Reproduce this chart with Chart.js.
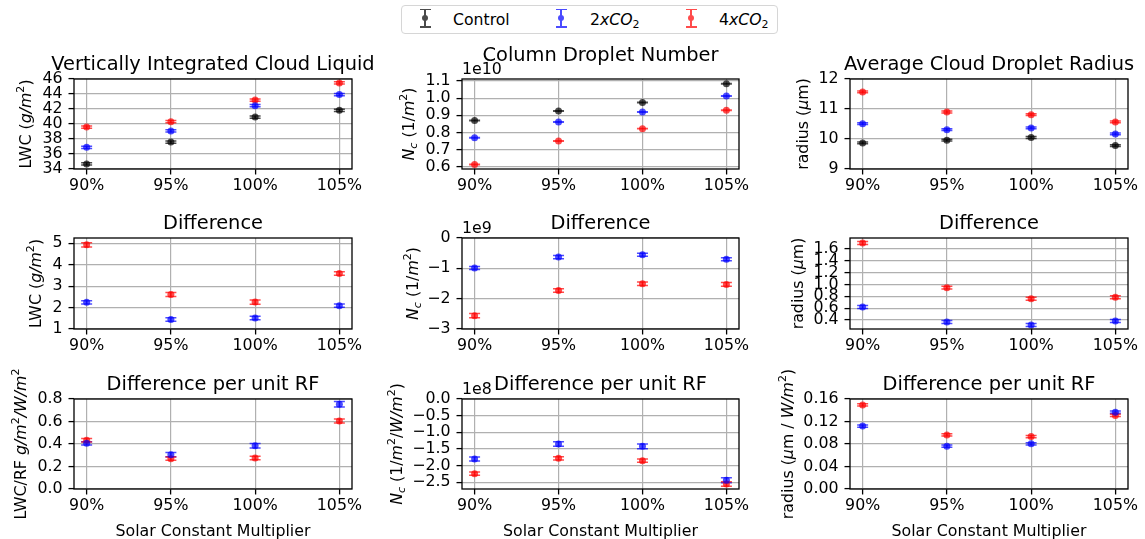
<!DOCTYPE html>
<html>
<head>
<meta charset="utf-8">
<script src="https://cdn.jsdelivr.net/npm/chart.js@4.4.1/dist/chart.umd.min.js"></script>
<style>
  html, body { margin: 0; padding: 0; background: #fff; }
  body { width: 1145px; height: 539px; position: relative; overflow: hidden; font-family: "DejaVu Sans", sans-serif; }
  canvas { position: absolute; }
  #legend { position: absolute; left: 401px; top: 5px; width: 375px; height: 27px;
            border: 1px solid #d6d6d6; border-radius: 4px; font-size: 15.7px; }
  #legend .txt { position: absolute; top: 4.6px; line-height: 18px; white-space: nowrap; }
  #legend sub { font-size: 70%; vertical-align: -3px; line-height: 0; }
  #legend .icon { position: absolute; top: 2.5px; width: 11px; height: 19px; opacity: 0.7; }
  #legend .icon div { position: absolute; }
</style>
</head>
<body>
<div id="legend"></div>
<script>
// ---- data ----
const categories = ["90%", "95%", "100%", "105%"];
const seriesNames = ["Control", "2xCO2", "4xCO2"];
const seriesColors = ["rgba(0,0,0,0.7)", "rgba(0,0,255,0.7)", "rgba(255,0,0,0.7)"];

// vertically integrated cloud liquid (g/m2)
const lwcControl = [34.67, 37.60, 40.93, 41.82];
const lwc2x = [36.89, 39.07, 42.44, 43.93];
const lwc4x = [39.60, 40.31, 43.20, 45.47];
const lwcErr = [0.15, 0.15, 0.15, 0.15];
const lwcTicks = [34, 36, 38, 40, 42, 44, 46];

// column droplet number (1e10 / m2)
const ncControl = [0.870, 0.925, 0.975, 1.084];
const nc2x = [0.769, 0.861, 0.919, 1.012];
const nc4x = [0.612, 0.750, 0.822, 0.929];
const ncErr = [0.0014, 0.0014, 0.0014, 0.0014];
const ncTicks = [0.6, 0.7, 0.8, 0.9, 1.0, 1.1];

// average cloud droplet radius (um)
const radControl = [9.87, 9.96, 10.05, 9.78];
const rad2x = [10.51, 10.31, 10.37, 10.17];
const rad4x = [11.57, 10.90, 10.81, 10.57];
const radErr = [0.03, 0.03, 0.03, 0.03];
const radTicks = [9, 10, 11, 12];

// differences
const lwcDiff2x = [2.245, 1.44, 1.51, 2.09];
const lwcDiff4x = [4.93, 2.61, 2.26, 3.59];
const lwcDiffErr2x = [0.08, 0.08, 0.08, 0.08];
const lwcDiffErr4x = [0.1, 0.09, 0.1, 0.08];
const lwcDiffTicks = [1, 2, 3, 4, 5];

const ncDiff2x = [-0.99, -0.63, -0.55, -0.70];
const ncDiff4x = [-2.56, -1.73, -1.51, -1.53];
const ncDiffErr2x = [0.05, 0.05, 0.05, 0.05];
const ncDiffErr4x = [0.07, 0.06, 0.06, 0.06];
const ncDiffTicks = [-3, -2, -1, 0];

const radDiff2x = [0.62, 0.366, 0.315, 0.383];
const radDiff4x = [1.70, 0.947, 0.76, 0.783];
const radDiffErr = [0.025, 0.025, 0.025, 0.025];
const radDiffTicks = [0.4, 0.6, 0.8, 1.0, 1.2, 1.4, 1.6];

// difference per unit RF
const lwcRf2x = [0.406, 0.305, 0.385, 0.753];
const lwcRf4x = [0.433, 0.270, 0.276, 0.604];
const lwcRfErr2x = [0.015, 0.019, 0.02, 0.024];
const lwcRfErr4x = [0.015, 0.015, 0.015, 0.018];
const lwcRfTicks = [0, 0.2, 0.4, 0.6, 0.8];

const ncRf2x = [-1.80, -1.35, -1.42, -2.44];
const ncRf4x = [-2.24, -1.78, -1.85, -2.55];
const ncRfErr2x = [0.06, 0.07, 0.07, 0.075];
const ncRfErr4x = [0.05, 0.05, 0.05, 0.065];
const ncRfTicks = [-2.5, -2, -1.5, -1, -0.5, 0];

const radRf2x = [0.112, 0.0762, 0.0803, 0.1366];
const radRf4x = [0.1495, 0.0961, 0.0932, 0.1307];
const radRfErr = [0.002, 0.002, 0.002, 0.002];
const radRfTicks = [0, 0.04, 0.08, 0.12, 0.16];

// ---- layout ----
const FONT = '"DejaVu Sans", sans-serif';
const TICK_SIZE = 15.8, TITLE_SIZE = 19.4;
const COLS = [{ l: 74, r: 352 }, { l: 462, r: 739 }, { l: 850, r: 1128 }];
const ROWS = [{ t: 79, b: 169 }, { t: 238, b: 329 }, { t: 399, b: 489 }];
const PAD = { l: 80, t: 40, r: 25, b: 52 };

const LWC_LABEL = [{ t: "LWC (" }, { t: "g/m", i: 1 }, { t: "2", s: "sup" }, { t: ")" }];
const NC_LABEL = [{ t: "N", i: 1 }, { t: "c", i: 1, s: "sub" }, { t: " (1/" }, { t: "m", i: 1 }, { t: "2", s: "sup" }, { t: ")" }];
const RAD_LABEL = [{ t: "radius (" }, { t: "\u03bc", i: 1 }, { t: "m)" }];

const panels = [
  { row: 0, col: 0, title: "Vertically Integrated Cloud Liquid", ylabel: LWC_LABEL, ylabelX: 25,
    yMin: 34, yMax: 46, ticks: lwcTicks, dec: 0,
    series: [[0, lwcControl, lwcErr], [1, lwc2x, lwcErr], [2, lwc4x, lwcErr]] },
  { row: 0, col: 1, title: "Column Droplet Number", titleGap: 18.5, offset: "1e10", ylabel: NC_LABEL, ylabelX: 408,
    yMin: 0.5864, yMax: 1.1117, ticks: ncTicks, dec: 1,
    series: [[0, ncControl, ncErr], [1, nc2x, ncErr], [2, nc4x, ncErr]] },
  { row: 0, col: 2, title: "Average Cloud Droplet Radius", ylabel: RAD_LABEL, ylabelX: 802,
    yMin: 9, yMax: 12, ticks: radTicks, dec: 0,
    series: [[0, radControl, radErr], [1, rad2x, radErr], [2, rad4x, radErr]] },
  { row: 1, col: 0, title: "Difference", ylabel: LWC_LABEL, ylabelX: 35,
    yMin: 1, yMax: 5.25, ticks: lwcDiffTicks, dec: 0,
    series: [[1, lwcDiff2x, lwcDiffErr2x], [2, lwcDiff4x, lwcDiffErr4x]] },
  { row: 1, col: 1, title: "Difference", offset: "1e9", ylabel: NC_LABEL, ylabelX: 412,
    yMin: -3, yMax: 0, ticks: ncDiffTicks, dec: 0,
    series: [[1, ncDiff2x, ncDiffErr2x], [2, ncDiff4x, ncDiffErr4x]] },
  { row: 1, col: 2, title: "Difference", ylabel: RAD_LABEL, ylabelX: 797,
    yMin: 0.248, yMax: 1.786, ticks: radDiffTicks, dec: 1,
    series: [[1, radDiff2x, radDiffErr], [2, radDiff4x, radDiffErr]] },
  { row: 2, col: 0, title: "Difference per unit RF", xlabel: "Solar Constant Multiplier", ylabelX: 20,
    ylabel: [{ t: "LWC/RF " }, { t: "g/m", i: 1 }, { t: "2", s: "sup" }, { t: "/W/m", i: 1 }, { t: "2", s: "sup" }],
    yMin: 0, yMax: 0.8, ticks: lwcRfTicks, dec: 1,
    series: [[1, lwcRf2x, lwcRfErr2x], [2, lwcRf4x, lwcRfErr4x]] },
  { row: 2, col: 1, title: "Difference per unit RF", xlabel: "Solar Constant Multiplier", offset: "1e8", ylabelX: 396,
    ylabel: [{ t: "N", i: 1 }, { t: "c", i: 1, s: "sub" }, { t: " (1/" }, { t: "m", i: 1 }, { t: "2", s: "sup" },
             { t: "/" }, { t: "W/m", i: 1 }, { t: "2", s: "sup" }, { t: ")" }],
    yMin: -2.70, yMax: 0, ticks: ncRfTicks, dec: 1,
    series: [[1, ncRf2x, ncRfErr2x], [2, ncRf4x, ncRfErr4x]] },
  { row: 2, col: 2, title: "Difference per unit RF", xlabel: "Solar Constant Multiplier", ylabelX: 787,
    ylabel: [{ t: "radius (" }, { t: "\u03bc", i: 1 }, { t: "m / " }, { t: "W/m", i: 1 }, { t: "2", s: "sup" }, { t: ")" }],
    yMin: 0, yMax: 0.16, ticks: radRfTicks, dec: 2,
    series: [[1, radRf2x, radRfErr], [2, radRf4x, radRfErr]] },
];

function fmtTick(v, dec) {
  return (v < -1e-9 ? "\u2212" : "") + Math.abs(v).toFixed(dec);
}

// mixed upright / italic / super- and subscript text, like matplotlib mathtext
function drawRich(ctx, segs, cx, cy, size, vertical) {
  const f = (s) => (s.i ? "italic " : "") + (s.s ? size * 0.7 : size) + "px " + FONT;
  let w = 0;
  segs.forEach((s) => { ctx.font = f(s); w += ctx.measureText(s.t).width; });
  ctx.save();
  ctx.translate(cx, cy);
  if (vertical) ctx.rotate(-Math.PI / 2);
  ctx.fillStyle = "#000";
  ctx.textAlign = "left";
  ctx.textBaseline = "alphabetic";
  let x = -w / 2;
  segs.forEach((s) => {
    ctx.font = f(s);
    const dy = s.s === "sup" ? -size * 0.42 : s.s === "sub" ? size * 0.2 : 0;
    ctx.fillText(s.t, x, size * 0.36 + dy);
    x += ctx.measureText(s.t).width;
  });
  ctx.restore();
}

function decorPlugin(p, canvasLeft) {
  return {
    id: "decor",
    beforeDatasetsDraw(chart) {
      // error bars with caps
      const { ctx, scales: { x, y } } = chart;
      chart.data.datasets.forEach((ds) => {
        ctx.save();
        ctx.strokeStyle = ds.backgroundColor;
        ctx.lineWidth = 1.5;
        ds.data.forEach((pt, i) => {
          const px = x.getPixelForValue(pt.x);
          const lo = y.getPixelForValue(pt.y - ds.errors[i]);
          const hi = y.getPixelForValue(pt.y + ds.errors[i]);
          ctx.beginPath();
          ctx.moveTo(px, lo); ctx.lineTo(px, hi);
          ctx.stroke();
          ctx.beginPath();
          ctx.moveTo(px - 5.5, lo); ctx.lineTo(px + 5.5, lo);
          ctx.moveTo(px - 5.5, hi); ctx.lineTo(px + 5.5, hi);
          ctx.stroke();
        });
        ctx.restore();
      });
    },
    afterDatasetsDraw(chart) {
      const { ctx, chartArea: a } = chart;
      ctx.save();
      ctx.strokeStyle = "#000";
      ctx.lineWidth = 1.3;
      ctx.strokeRect(a.left, a.top, a.right - a.left, a.bottom - a.top);
      ctx.restore();
    },
    afterDraw(chart) {
      const { ctx, chartArea: a } = chart;
      ctx.save();
      ctx.fillStyle = "#000";
      ctx.textBaseline = "alphabetic";
      ctx.textAlign = "center";
      ctx.font = TITLE_SIZE + "px " + FONT;
      ctx.fillText(p.title, (a.left + a.right) / 2, a.top - (p.titleGap || 9.5));
      if (p.offset) {
        ctx.textAlign = "left";
        ctx.font = TICK_SIZE + "px " + FONT;
        ctx.fillText(p.offset, a.left, a.top - 5.5);
      }
      if (p.xlabel) {
        ctx.textAlign = "center";
        ctx.font = TICK_SIZE + "px " + FONT;
        ctx.fillText(p.xlabel, (a.left + a.right) / 2, a.bottom + 47);
      }
      ctx.restore();
      drawRich(ctx, p.ylabel, p.ylabelX - canvasLeft, (a.top + a.bottom) / 2, TICK_SIZE, true);
    },
  };
}

Chart.defaults.font.family = FONT;
Chart.defaults.font.size = TICK_SIZE;
Chart.defaults.color = "#000";

const gridOpts = { color: "#b0b0b0", lineWidth: 1.2, tickColor: "#000", tickLength: 5.5, tickWidth: 1.3 };

panels.forEach((p) => {
  const box = { l: COLS[p.col].l, r: COLS[p.col].r, t: ROWS[p.row].t, b: ROWS[p.row].b };
  const w = box.r - box.l + PAD.l + PAD.r;
  const h = box.b - box.t + PAD.t + PAD.b;
  const cv = document.createElement("canvas");
  cv.width = w; cv.height = h;
  cv.style.left = box.l - PAD.l + "px";
  cv.style.top = box.t - PAD.t + "px";
  cv.style.width = w + "px";
  cv.style.height = h + "px";
  document.body.appendChild(cv);

  new Chart(cv, {
    type: "scatter",
    data: {
      datasets: p.series.map(([s, vals, errs]) => ({
        label: seriesNames[s],
        data: vals.map((v, i) => ({ x: i, y: v })),
        errors: errs,
        backgroundColor: seriesColors[s],
        borderWidth: 0,
        pointRadius: 3.5,
        pointHoverRadius: 3.5,
      })),
    },
    options: {
      responsive: false,
      animation: false,
      devicePixelRatio: 1,
      events: [],
      layout: { padding: { left: 0, top: PAD.t, right: PAD.r, bottom: 0 } },
      plugins: { legend: { display: false }, tooltip: { enabled: false } },
      scales: {
        x: {
          type: "linear",
          min: -0.15,
          max: 3.15,
          afterBuildTicks: (s) => { s.ticks = categories.map((c, i) => ({ value: i })); },
          afterFit: (s) => { s.height = PAD.b; },
          ticks: { autoSkip: false, maxRotation: 0, padding: 2, callback: (v) => categories[v] },
          grid: gridOpts,
          border: { display: false },
        },
        y: {
          min: p.yMin,
          max: p.yMax,
          afterBuildTicks: (s) => { s.ticks = p.ticks.map((v) => ({ value: v })); },
          afterFit: (s) => { s.width = PAD.l; },
          ticks: { autoSkip: false, padding: 6, callback: (v) => fmtTick(v, p.dec) },
          grid: gridOpts,
          border: { display: false },
        },
      },
    },
    plugins: [decorPlugin(p, box.l - PAD.l)],
  });
});

// legend (errorbar glyphs)
const legendX = [{ icon: 23, text: 51 }, { icon: 159, text: 188 }, { icon: 289, text: 317 }];
const legend = document.getElementById("legend");
seriesNames.forEach((name, k) => {
  const col = seriesColors[k].replace(/rgba\((\d+),(\d+),(\d+),[^)]+\)/, "rgb($1,$2,$3)");
  const icon = document.createElement("div");
  icon.className = "icon";
  icon.style.left = legendX[k].icon - 5.5 + "px";
  icon.innerHTML =
    `<div style="left:4.75px;top:0;width:1.5px;height:19px;background:${col}"></div>` +
    `<div style="left:0;top:0;width:11px;height:1.5px;background:${col}"></div>` +
    `<div style="left:0;top:17.5px;width:11px;height:1.5px;background:${col}"></div>` +
    `<div style="left:2.1px;top:6.1px;width:6.8px;height:6.8px;border-radius:50%;background:${col}"></div>`;
  legend.appendChild(icon);
  const txt = document.createElement("span");
  txt.className = "txt";
  txt.style.left = legendX[k].text + "px";
  txt.innerHTML = name.replace(/^(\d)xCO2$/, "$1<i>xCO</i><sub>2</sub>");
  legend.appendChild(txt);
});
</script>
</body>
</html>
